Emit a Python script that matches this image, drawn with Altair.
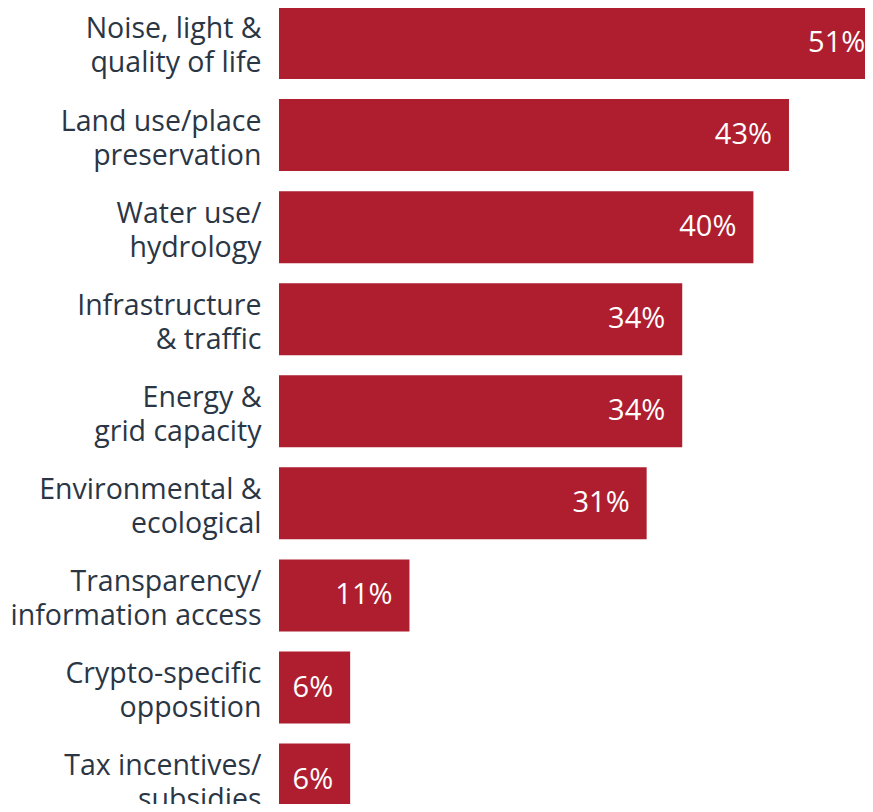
import json
import altair as alt
import pandas as pd

categories = [
    "Noise, light &\nquality of life",
    "Land use/place\npreservation",
    "Water use/\nhydrology",
    "Infrastructure\n& traffic",
    "Energy &\ngrid capacity",
    "Environmental &\necological",
    "Transparency/\ninformation access",
    "Crypto-specific\nopposition",
    "Tax incentives/\nsubsidies",
]
values = [51, 43, 40, 34, 34, 31, 11, 6, 6]

df = pd.DataFrame({
    "i": list(range(len(categories))),
    "v": values,
    "lab": [f"{v}%" for v in values],
})

label_lines = json.dumps([c.split("\n") for c in categories])

BAR = "#ae1e2f"
TXT = "#2b3645"
FONT = "Open Sans"

XMAX = 49.41  # value at the right edge of the visible plot

yscale = alt.Scale(domain=[-0.38, 8.265], reverse=True, zero=False, nice=False, padding=0)
xscale = alt.Scale(domain=[0, XMAX], nice=False, zero=True, padding=0)

base = alt.Chart(df)

bars = base.mark_bar(orient="horizontal", size=72, clip=True, color=BAR).encode(
    x=alt.X("v:Q", scale=xscale, axis=None),
    y=alt.Y(
        "i:Q",
        scale=yscale,
        axis=alt.Axis(
            values=list(range(len(categories))),
            labelExpr=f"{label_lines}[datum.value]",
            title=None,
            domain=False,
            ticks=False,
            grid=False,
            labelPadding=18,
            labelOffset=-14,
            labelFont=FONT,
            labelFontSize=28.5,
            labelColor=TXT,
            labelAlign="right",
            labelBaseline="middle",
            labelLineHeight=34,
            labelOverlap=False,
            labelLimit=600,
        ),
    ),
)

texts = base.transform_calculate(
    tx=f"min(datum.v, {XMAX + 1.45})"
).mark_text(
    align="right", baseline="middle", dx=-17, color="white",
    font=FONT, fontSize=29,
).encode(
    x=alt.X("tx:Q", scale=xscale),
    y=alt.Y("i:Q", scale=yscale),
    text="lab:N",
)

chart = (
    alt.layer(bars, texts)
    .properties(
        width=586,
        height=796,
        autosize=alt.AutoSizeParams(type="none"),
        padding={"left": 271, "top": 0, "right": 0, "bottom": 0},
        background="white",
    )
    .configure_view(strokeWidth=0)
    .configure_scale(continuousPadding=0)
)

chart.save("out.html", embed_options={"renderer": "svg", "actions": False})
